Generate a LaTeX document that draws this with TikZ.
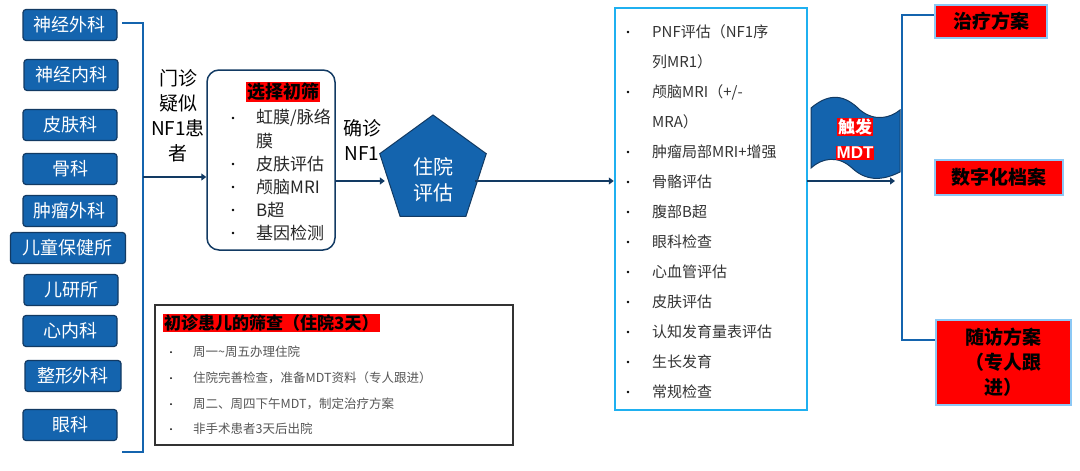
\documentclass[tikz,border=0pt]{standalone}
\usepackage{fontspec}
\setmainfont{Liberation Sans}
\newfontfamily\cjk{Noto Sans CJK SC}
\usetikzlibrary{shapes.geometric,arrows.meta}
\definecolor{dblue}{HTML}{1464AE}
\definecolor{dedge}{HTML}{123A63}
\definecolor{cyanb}{HTML}{1FB0F0}
\definecolor{lblue}{HTML}{8CC8F5}
\definecolor{gtxt}{HTML}{555555}
\tikzset{
 dept/.style={draw=dedge,line width=1.2pt,fill=dblue,rounded corners=3pt,text=white,font=\cjk\fontsize{18}{20}\selectfont,minimum height=31pt,inner sep=2pt},
 redbox/.style={draw=lblue,line width=2pt,fill=red,font=\cjk\bfseries\fontsize{19}{25}\selectfont,align=center,inner sep=1pt},
 arr/.style={draw=dedge,line width=2.2pt,-{Triangle[length=5pt,width=7pt]}},
 brk/.style={draw=dblue,line width=1.5pt},
 lbl/.style={font=\cjk\fontsize{19}{25}\selectfont,align=center},
 itm/.style={font=\cjk\fontsize{15}{17}\selectfont,anchor=west,inner sep=0pt,text=black!80},
 sitm/.style={font=\cjk\fontsize{17}{19}\selectfont,anchor=west,inner sep=0pt,text=black!85},
 sm/.style={font=\cjk\fontsize{12.5}{14}\selectfont,anchor=west,inner sep=0pt,text=gtxt}
}
\begin{document}
\begin{tikzpicture}[x=1pt,y=-1pt]
\useasboundingbox (0,0) rectangle (1080,471);
% departments
\node[dept,minimum width=94pt] (d1) at (70,25) {神经外科};
\node[dept,minimum width=94pt] (d2) at (71,75) {神经内科};
\node[dept,minimum width=94pt] (d3) at (70,125) {皮肤科};
\node[dept,minimum width=94pt] (d4) at (70,169) {骨科};
\node[dept,minimum width=94pt] (d5) at (70,211) {肿瘤外科};
\node[dept,minimum width=115pt] (d6) at (68,248) {儿童保健所};
\node[dept,minimum width=94pt] (d7) at (71,290) {儿研所};
\node[dept,minimum width=94pt] (d8) at (70,331) {心内科};
\node[dept,minimum width=96pt] (d9) at (73,376) {整形外科};
\node[dept,minimum width=94pt] (d10) at (70,425) {眼科};
% bracket
\coordinate (b1) at (122,23); \coordinate (b2) at (143,23);
\coordinate (b3) at (143,452); \coordinate (b4) at (122,452);
\draw[brk] (b1)--(b2)--(b3)--(b4);
\coordinate (bm) at (143,177);
% screening box
\node[draw=dedge,line width=1.5pt,rounded corners=12pt,minimum width=128pt,minimum height=180pt] (scr) at (271,160) {};
\node[fill=red,font=\cjk\bfseries\fontsize{18}{20}\selectfont,inner sep=1pt] (scrt) at (283,92) {选择初筛};
\foreach \y/\t in {118/{虹膜/脉络},141/膜,164/皮肤评估,187/颅脑MRI,210/B超,233/基因检测}{
 \node[sitm] at (256,\y) {\t};}
\foreach \y in {118,164,187,210,233}{\fill (233,\y) circle (1.4pt);}
\draw[arr] (bm) -- (scr.west|-bm);
\node[lbl] (l1) at (178,116) {门诊\\疑似\\NF1患\\者};
% pentagon
\node[regular polygon,regular polygon sides=5,draw=dedge,line width=1pt,fill=dblue,minimum size=112pt,inner sep=0pt] (pen) at (433,171) {};
\node[text=white,font=\cjk\fontsize{20}{26}\selectfont,align=center] (pent) at (433,180) {住院\\评估};
\coordinate (a2) at (335,181);
\draw[arr] (a2) -- (pen.west|-a2);
\node[lbl] (l2) at (362,140) {确诊\\NF1};
% right list
\node[draw=cyanb,line width=2.5pt,minimum width=192pt,minimum height=402pt] (lst) at (711,209) {};
\coordinate (a3) at (475,181);
\draw[arr] (a3) -- (lst.west|-a3);
\foreach \y/\t in {32/PNF评估（NF1序,62/列MR1）,92/{颅脑MRI（+/-},122/MRA）,152/肿瘤局部MRI+增强,182/骨骼评估,212/腹部B超,242/眼科检查,272/心血管评估,302/皮肤评估,332/认知发育量表评估,362/生长发育,392/常规检查}{
 \node[itm] at (652,\y) {\t};}
\foreach \y in {32,92,152,182,212,242,272,302,332,362,392}{\fill (628,\y) circle (1.3pt);}
% flag
\draw[draw=dedge,line width=1pt,fill=dblue] (811,168) -- (811,108) .. controls (830,92) and (845,95) .. (860,110) .. controls (875,122) and (890,118) .. (900,110) -- (900,172) .. controls (880,182) and (865,180) .. (852,168) .. controls (838,155) and (822,158) .. (811,168) -- cycle;
\node[fill=red,text=white,font=\cjk\bfseries\fontsize{17}{19}\selectfont,inner sep=1pt] (fl1) at (855,127) {触发};
\node[fill=red,text=white,font=\bfseries\fontsize{17}{19}\selectfont,inner sep=1pt] (fl2) at (855,153) {MDT};
\coordinate (a4) at (807,181); \coordinate (a4e) at (895,181);
\draw[arr] (a4) -- (a4e);
% outcomes
\node[redbox,minimum width=112pt,minimum height=33pt] (o1) at (991,21) {治疗方案};
\node[redbox,minimum width=128pt,minimum height=35pt] (o2) at (999,177) {数字化档案};
\node[redbox,minimum width=135pt,minimum height=85pt] (o3) at (1003,362) {随访方案\\（专人跟\\进）};
\coordinate (r1) at (902,15); \coordinate (r2) at (902,340);
\draw[brk] (o1.west|-r1) -- (r1) -- (r2) -- (o3.west|-r2);
% bottom box
\node[draw=black!80,line width=1.2pt,minimum width=358pt,minimum height=140pt] (bot) at (334,375) {};
\node[fill=red,font=\cjk\bfseries\fontsize{17}{19}\selectfont,inner sep=1pt,anchor=west] (bt) at (163,323) {初诊患儿的筛查（住院3天）};
\foreach \y/\t in {352/周一\textasciitilde 周五办理住院,378/住院完善检查，准备MDT资料（专人跟进）,404/周二、周四下午MDT，制定治疗方案,429/非手术患者3天后出院}{
 \node[sm] at (193,\y) {\t}; \fill (171,\y) circle (1pt);}
\end{tikzpicture}
\end{document}
